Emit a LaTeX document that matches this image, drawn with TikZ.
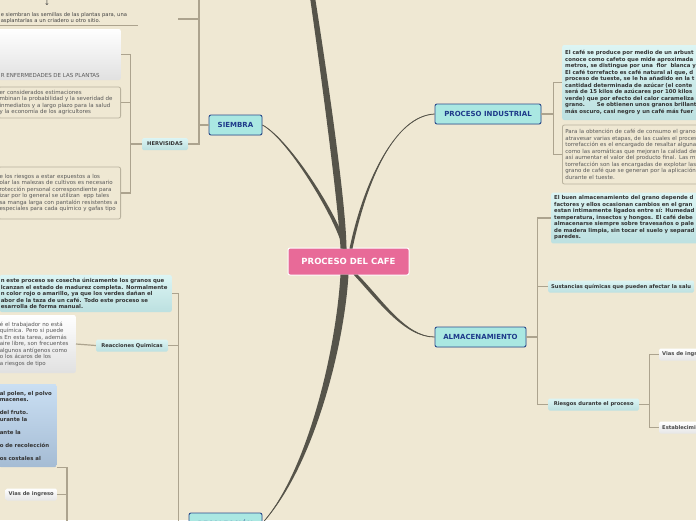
\documentclass[tikz,border=0pt]{standalone}
\usepackage{fontspec}
\setmainfont{DejaVu Sans}
\usetikzlibrary{calc,shadows}

\definecolor{fondo}{RGB}{239,232,211}
\definecolor{rosa}{RGB}{232,106,152}
\definecolor{cian}{RGB}{170,232,226}
\definecolor{azulborde}{RGB}{44,76,140}
\definecolor{azultexto}{RGB}{30,58,138}
\definecolor{ramacol}{RGB}{86,84,74}
\definecolor{linea}{RGB}{172,163,142}
\definecolor{gris}{RGB}{88,88,88}
\definecolor{bordegris}{RGB}{185,178,158}
\definecolor{cianclaro}{RGB}{220,245,244}
\definecolor{cianoscuro}{RGB}{188,224,224}
\definecolor{azulclaro}{RGB}{202,223,243}
\definecolor{azulmedio}{RGB}{165,188,212}

\tikzset{
  principal/.style={draw=azulborde, line width=0.9pt, fill=cian, rounded corners=2pt,
    text=azultexto, font=\bfseries\fontsize{7}{8}\selectfont, minimum height=20pt,
    inner xsep=3pt, drop shadow={opacity=0.2, shadow xshift=0.6pt, shadow yshift=-0.6pt}},
  raiz/.style={draw=white, line width=1pt, fill=rosa, rounded corners=2pt, text=white,
    font=\bfseries\fontsize{8.5}{10}\selectfont, minimum width=121pt, minimum height=27pt},
  etiqueta/.style={top color=cianclaro, bottom color=cianoscuro, rounded corners=1.5pt,
    font=\bfseries\fontsize{5.2}{6}\selectfont, text=black!80, inner xsep=3pt,
    inner ysep=2pt, minimum height=12pt},
  etiqblanca/.style={etiqueta, top color=white, bottom color=black!10, text=black!70},
  cajagris/.style={draw=bordegris, line width=0.8pt, fill=fondo, rounded corners=2pt,
    text=gris, font=\fontsize{5.5}{6.5}\selectfont, align=left, inner xsep=1pt, inner ysep=2pt},
  cajacian/.style={top color=cianclaro, bottom color=cianoscuro, rounded corners=2pt,
    text=black!80, font=\bfseries\fontsize{5.4}{6.5}\selectfont, align=left, inner xsep=1pt},
  cajablanca/.style={cajacian, top color=white, bottom color=black!12,
    font=\fontsize{5.5}{6.5}\selectfont, text=gris},
  cajaazul/.style={cajacian, top color=azulclaro, bottom color=azulmedio},
  conn/.style={draw=linea, line width=1.2pt},
  rama/.style={fill=ramacol},
  ramafina/.style={draw=ramacol, line width=0.8pt},
}

\begin{document}
\begin{tikzpicture}[x=1pt,y=-1pt]
\fill[fondo] (0,0) rectangle (696,520);
\useasboundingbox (0,0) rectangle (696,520);

% nodos principales
\node[raiz] (root) at (348.5,261.5) {PROCESO DEL CAFE};
\node[principal, minimum width=53pt] (sie) at (235.5,125) {SIEMBRA};
\node[principal, minimum width=106pt] (pind) at (488,114) {PROCESO INDUSTRIAL};
\node[principal, minimum width=91pt] (alm) at (480.5,337) {ALMACENAMIENTO};
\node[principal, minimum width=73pt] (recol) at (225.5,523) {RECOLECCIÓN};

% ramas gruesas desde la raiz
\fill[rama] ($(root.north)+(-8,1)$) .. controls (338,200) and (319,60) .. (309.5,-6)
  -- (314.5,-6) .. controls (325,60) and (346,200) .. ($(root.north)+(-2,1)$) -- cycle;
\fill[rama] ($(root.north)+(-6,1)$) .. controls (339,225) and (290,141) .. (sie.east)
  .. controls (291,139) and (344,225) .. ($(root.north)+(-2,1)$) -- cycle;
\draw[ramafina] ($(root.north)+(-4,0)$) .. controls (342,225) and (290,140) .. (sie.east);
\fill[rama] ($(root.north)+(1,1)$) .. controls (364,180) and (395,117) .. (pind.west)
  .. controls (395,115) and (367,180) .. ($(root.north)+(4,1)$) -- cycle;
\draw[ramafina] ($(root.north)+(2.5,0)$) .. controls (366,180) and (395,116) .. (pind.west);
\fill[rama] ($(root.south)+(5,-1)$) .. controls (378,301) and (405,338) .. (alm.west)
  .. controls (405,336) and (382,299) .. ($(root.south)+(9,-1)$) -- cycle;
\draw[ramafina] ($(root.south)+(7,0)$) .. controls (380,300) and (405,337) .. (alm.west);
\fill[rama] ($(root.south)+(-8,-1)$) .. controls (336,350) and (308,470) .. (recol.east)
  .. controls (312,470) and (344,350) .. ($(root.south)+(0,-1)$) -- cycle;
\draw[ramafina] ($(root.south)+(-4,0)$) .. controls (340,350) and (310,470) .. (recol.east);

% SIEMBRA
\node[etiqueta, minimum width=46pt] (herv) at (165,144) {HERVISIDAS};
\node[font=\fontsize{7}{8}\selectfont, text=black!75] (flecha) at (47,3) {↓};
\node[anchor=south east, text width=136pt, inner xsep=1pt, inner ysep=1.5pt, align=left,
  font=\fontsize{5.2}{5.4}\selectfont, text=black!75] (semtext) at (138,25)
  {e siembran las semillas de las plantas para, una\\asplantarlas a un criadero u otro sitio.};
\draw[conn, line width=1pt] (semtext.south west) -- (semtext.south east);
\node[cajablanca, anchor=east, minimum width=122pt, minimum height=51pt, inner sep=0pt] (hb1)
  at (121,54.5) {\parbox[c][46pt][b]{118pt}{R ENFERMEDADES DE LAS PLANTAS}};
\node[cajagris, anchor=east, text width=120pt, minimum height=31pt] (hb2) at (121,102.5)
  {er considerados estimaciones\\mbinan la probabilidad y la severidad de\\inmediatos y a largo plazo para la salud\\y la economía de los agricultores};
\node[cajagris, anchor=east, text width=120pt, minimum height=52pt] (hb3) at (121,193)
  {e los riesgos a estar expuestos a los\\olar las malezas de cultivos es necesario\\rotección personal correspondiente para\\izar por lo general se utilizan\ \ epp tales\\sa manga larga con pantalón resistentes a\\especiales para cada químico y gafas tipo};

\coordinate (sarriba) at (199,-6);
\coordinate (semi) at (178,19);
\draw[conn] (sie.west) -- (sie.west -| sarriba) |- (herv.east);
\draw[conn] (sie.west -| sarriba) -- (sarriba);
\draw[conn] (semi) -- (semi -| sarriba);
\draw[conn] (herv.west) -- ++(-11,0) coordinate (hbus);
\draw[conn] (hbus) |- (hb1.east);
\draw[conn] (hbus) |- (hb2.east);
\draw[conn] (hbus) |- (hb3.east);

% PROCESO INDUSTRIAL
\node[cajacian, anchor=west, text width=200pt, minimum height=75pt, inner xsep=3pt] (pi1) at (562,82.5)
  {El café se produce por medio de un arbust\\conoce como cafeto que mide aproximada\\metros, se distingue por una\ \ flor\ \ blanca y\\El café torrefacto es café natural al que, d\\proceso de tueste, se le ha añadido en la t\\cantidad determinada de azúcar (el conte\\será de 15 kilos de azúcares por 100 kilos\\verde) que por efecto del calor carameliza\\grano.\hspace{12pt}Se obtienen unos granos brillant\\más oscuro, casi negro y un café más fuer};
\node[cajagris, anchor=west, text width=200pt, minimum height=59pt, inner xsep=3pt] (pi2) at (562,154.5)
  {Para la obtención de café de consumo el grano\\atravesar varias etapas, de las cuales el proces\\torrefacción es el encargado de resaltar alguna\\como las aromáticas que mejoran la calidad de\\así aumentar el valor del producto final. Las m\\torrefacción son las encargadas de explotar las\\grano de café que se generan por la aplicación\\durante el tueste.};
\draw[conn] (pind.east) -- ++(12,0) coordinate (pbus);
\draw[conn] (pbus) |- (pi1.west);
\draw[conn] (pbus) |- (pi2.west);

% ALMACENAMIENTO
\node[cajacian, anchor=west, text width=200pt, minimum height=50pt, inner xsep=3pt] (alm1) at (551,218)
  {El buen almacenamiento del grano depende d\\factores y ellos ocasionan cambios en el gran\\estan intimamente ligados entre sí: Humedad\\temperatura, insectos y hongos. El café debe\\almacenarse siempre sobre travesaños o pale\\de madera limpia, sin tocar el suelo y separad\\paredes.};
\node[etiqueta, anchor=west] (sust) at (548,286.5) {Sustancias químicas que pueden afectar la salu};
\node[etiqueta, anchor=west, minimum width=91pt] (ries) at (548,404.5) {Riesgos durante el proceso};
\node[etiqblanca, anchor=west, minimum width=60pt, text width=54pt] (vias2) at (659,354.5) {Vias de ingreso};
\node[etiqblanca, anchor=west, minimum width=60pt, text width=54pt] (estab) at (659,427.5) {Establecimi};
\draw[conn] (alm.east) -- ++(11,0) coordinate (abus);
\draw[conn] (abus) |- (alm1.west);
\draw[conn] (abus) |- (sust.west);
\draw[conn] (abus) |- (ries.west);
\draw[conn] (ries.east) -- ++(10,0) coordinate (rbus);
\draw[conn] (rbus) |- (vias2.west);
\draw[conn] (rbus) |- (estab.west);

% RECOLECCION
\node[cajacian, anchor=east, text width=170pt, minimum height=37pt] (cosb) at (172,293.5)
  {n este proceso se cosecha únicamente los granos que\\lcanzan el estado de madurez completa. Normalmente\\n color rojo o amarillo, ya que los verdes dañan el\\abor de la taza de un café. Todo este proceso se\\esarrolla de forma manual.};
\node[etiqueta, minimum width=72pt] (reac) at (132,345.5) {Reacciones Quimicas};
\node[cajablanca, anchor=east, text width=75pt, minimum height=58pt] (reacb) at (76,344)
  {é el trabajador no está\\ química. Pero si puede\\s En esta tarea, además\\aire libre, son frecuentes\\ algunos antígenos como\\o los ácaros de los\\a riesgos de tipo};
\node[cajaazul, anchor=east, text width=56pt, minimum height=83pt] (azul) at (57,425.5)
  {al polen, el polvo\\macenes.\\[6.5pt]del fruto.\\urante la\\[6.5pt]ante la\\[6.5pt]o de recolección\\[6.5pt]os costales al};
\node[etiqblanca, anchor=east] (vias) at (57,494.5) {Vias de ingreso};
\draw[conn] (recol.west) -- ++(-10,0) coordinate (cbus);
\draw[conn] (cbus) |- (cosb.east);
\draw[conn] (cbus) |- (reac.east);
\draw[conn] (reacb.east) -- (reac.west);
\coordinate (vbajo) at (67,530);
\draw[conn] (vbajo) |- (vias.east);
\draw[conn] (vbajo) |- (azul.south east);
\end{tikzpicture}
\end{document}
